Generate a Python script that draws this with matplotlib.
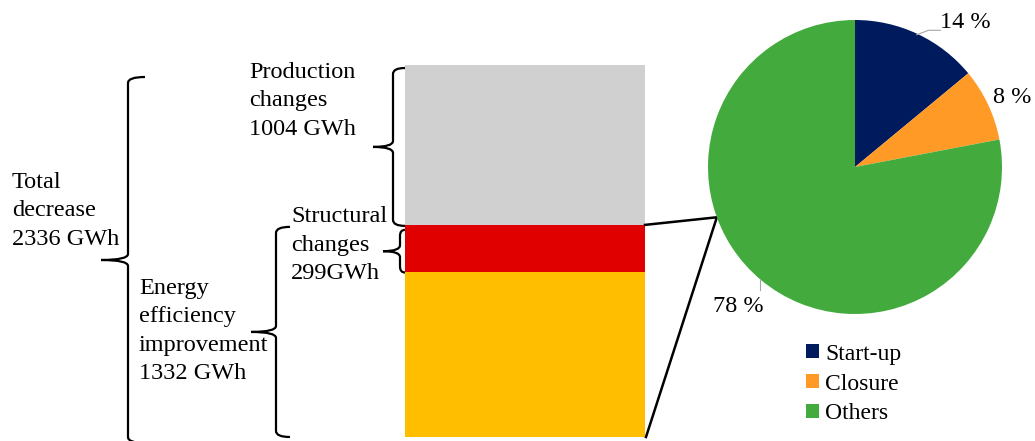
import numpy as np
import matplotlib.pyplot as plt
from matplotlib.path import Path
from matplotlib.patches import PathPatch, Patch

plt.rcParams['font.family'] = ['Liberation Serif', 'DejaVu Serif']

# stacked bar, bottom to top (GWh)
seg_names = ['Other efficiency', 'Structural changes', 'Production changes']
seg_values = [1033, 299, 1004]
seg_colors = ['#FFBF00', '#E00000', '#D0D0D0']
total = 2336
efficiency = 1332
structural = 299
production = 1004

# breakdown of structural changes
pie_labels = ['Start-up', 'Closure', 'Others']
pie_shares = [14, 8, 78]
pie_colors = ['#001A5E', '#FF9A26', '#43AB3E']

W, H = 1035, 441
fig = plt.figure(figsize=(W / 100, H / 100), dpi=100)
ax = fig.add_axes([0, 0, 1, 1])
k = total / (437 - 65)          # GWh per pixel row
ax.set_xlim(0, W)
ax.set_ylim(-(H - 437) * k, total + 65 * k)
ax.axis('off')


def gy(p):
    return (437 - p) * k


bottoms = np.concatenate([[0], np.cumsum(seg_values)[:-1]])
ax.bar(525, seg_values, width=240, bottom=bottoms, color=seg_colors, linewidth=0)


def brace(x, top, bottom, tip, hook, r=6):
    ym = (top + bottom) / 2
    ry = r * k
    verts = [(hook, top), (x, top), (x, top - ry),
             (x, ym + ry), (x, ym), (tip, ym),
             (x, ym), (x, ym - ry),
             (x, bottom + ry), (x, bottom), (hook, bottom)]
    codes = [Path.MOVETO, Path.CURVE3, Path.CURVE3,
             Path.LINETO, Path.CURVE3, Path.CURVE3,
             Path.CURVE3, Path.CURVE3,
             Path.LINETO, Path.CURVE3, Path.CURVE3]
    ax.add_patch(PathPatch(Path(verts, codes), fill=False, lw=1.6,
                           edgecolor='black', capstyle='butt'))


brace(128, gy(77), gy(443), 101, 145)
brace(393, total - 3 * k, efficiency - 1 * k, 373, 405)
brace(400, efficiency - 5 * k, efficiency - structural, 383, 405)
brace(276, efficiency - 2 * k, 0, 251, 290)

fs = 17.5
ls = 1.45
ax.text(12, gy(211), f'Total\ndecrease\n{total} GWh', fontsize=fs,
        va='center', ha='left', linespacing=ls)
ax.text(249, gy(101), f'Production\nchanges\n{production} GWh', fontsize=fs,
        va='center', ha='left', linespacing=ls)
ax.text(291, gy(245), f'Structural\nchanges\n{structural}GWh', fontsize=fs,
        va='center', ha='left', linespacing=ls)
ax.text(139, gy(331), f'Energy\nefficiency\nimprovement\n{efficiency} GWh',
        fontsize=fs, va='center', ha='left', linespacing=ls)

# pie of structural changes
cx, cy, rad = 855, 167, 147
ax2 = fig.add_axes([(cx - rad) / W, (H - cy - rad) / H, 2 * rad / W, 2 * rad / H])
ax2.pie(pie_shares, colors=pie_colors, startangle=90, counterclock=False,
        radius=1, wedgeprops=dict(linewidth=0))
ax2.set_xlim(-1, 1)
ax2.set_ylim(-1, 1)
ax2.axis('off')

ax2.text(0.748, 0.986, f'{pie_shares[0]} %', fontsize=fs, ha='center', va='center')
ax2.text(1.068, 0.476, f'{pie_shares[1]} %', fontsize=fs, ha='center', va='center')
ax2.text(-0.796, -0.952, f'{pie_shares[2]} %', fontsize=fs, ha='center', va='center')
ax2.plot([0.42, 0.50, 0.58], [0.90, 0.93, 0.93], color='#A6A6A6', lw=0.8, clip_on=False)
ax2.plot([-0.646, -0.646], [-0.769, -0.837], color='#A6A6A6', lw=0.8, clip_on=False)

# lines linking the red segment to the pie
theta = np.deg2rad(200)
ex, ey = cx + rad * np.cos(theta), cy - rad * np.sin(theta)
ax.plot([645, ex, 646], [efficiency, gy(ey), 0], color='black', lw=1.8,
        solid_joinstyle='miter')

handles = [Patch(facecolor=c, label=l) for c, l in zip(pie_colors, pie_labels)]
fig.legend(handles=handles, loc='center left', bbox_to_anchor=(806 / W, 1 - 384 / H),
           frameon=False, fontsize=17, handlelength=0.55, handleheight=0.55,
           handletextpad=0.25, labelspacing=0.38, borderpad=0, borderaxespad=0)

fig.savefig('out.png', dpi=100)
